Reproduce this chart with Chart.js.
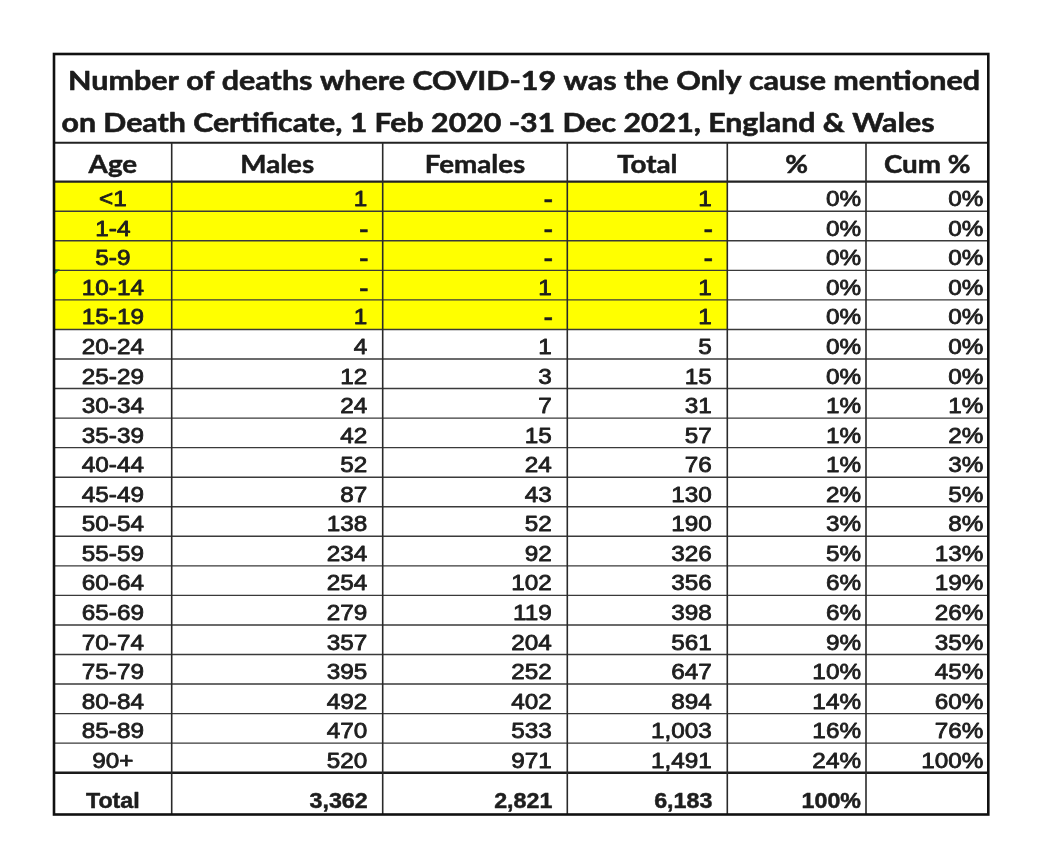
<!DOCTYPE html>
<html>
<head>
<meta charset="utf-8">
<script src="https://cdn.jsdelivr.net/npm/chart.js@4.4.1/dist/chart.umd.min.js"></script>
<style>
html,body{margin:0;padding:0;background:#ffffff;}
#wrap{width:1044px;height:868px;position:relative;}
</style>
</head>
<body>
<div id="wrap"><canvas id="c"></canvas></div>
<script>
// ---------------- DATA ----------------
const titleLine1 = 'Number of deaths where COVID-19 was the Only cause mentioned';
const titleLine2 = 'on Death Certificate, 1 Feb 2020 -31 Dec 2021, England & Wales';
const headers = ['Age', 'Males', 'Females', 'Total', '%', 'Cum %'];
const ageGroups = ['<1','1-4','5-9','10-14','15-19','20-24','25-29','30-34','35-39','40-44',
                   '45-49','50-54','55-59','60-64','65-69','70-74','75-79','80-84','85-89','90+'];
const males   = [1,0,0,0,1,4,12,24,42,52,87,138,234,254,279,357,395,492,470,520];
const females = [0,0,0,1,0,1,3,7,15,24,43,52,92,102,119,204,252,402,533,971];
const totals  = [1,0,0,1,1,5,15,31,57,76,130,190,326,356,398,561,647,894,1003,1491];
const pct     = [0,0,0,0,0,0,0,1,1,1,2,3,5,6,6,9,10,14,16,24];
const cumPct  = [0,0,0,0,0,0,0,1,2,3,5,8,13,19,26,35,45,60,76,100];
const totalRowLabel = 'Total';
const totalMales = 3362;
const totalFemales = 2821;
const grandTotal = 6183;
const totalPct = 100;
const highlightedAgeGroups = ['<1','1-4','5-9','10-14','15-19'];

// ---------------- LAYOUT ----------------
const colWidths = [117.7, 211, 184.6, 160, 138.7, 122.3];
const titleH = 88.7, headerH = 39, rowH = 29.55, totalH = 41.8;
const colEdges = [0];
colWidths.forEach(w => colEdges.push(colEdges[colEdges.length-1] + w));
const rowEdges = [0, titleH, titleH + headerH];
ageGroups.forEach(() => rowEdges.push(rowEdges[rowEdges.length-1] + rowH));
rowEdges.push(rowEdges[rowEdges.length-1] + totalH);
const W = colEdges[colEdges.length-1], H = rowEdges[rowEdges.length-1];

const fmtNum = n => n === 0 ? '-' : n.toLocaleString('en-US');
const fmtPct = n => n + '%';

function scaleToWidth(ctx, text, font, target) {
  ctx.font = font;
  return target / ctx.measureText(text).width;
}
function drawText(ctx, text, x, y, align, font, sx, color, emb) {
  ctx.save();
  ctx.font = font;
  ctx.translate(x, y);
  ctx.scale(sx, 1);
  ctx.textAlign = align;
  ctx.textBaseline = 'alphabetic';
  ctx.fillStyle = color;
  ctx.fillText(text, 0, 0);
  if (emb) { ctx.lineWidth = emb; ctx.strokeStyle = color; ctx.lineJoin = 'round'; ctx.strokeText(text, 0, 0); }
  ctx.restore();
}

const tablePlugin = {
  id: 'tableDraw',
  beforeDatasetsDraw(chart) {
    const ctx = chart.ctx, xs = chart.scales.x, ys = chart.scales.y;
    const X = v => xs.getPixelForValue(v), Y = v => ys.getPixelForValue(v);
    ctx.save();
    // yellow highlight
    ctx.fillStyle = '#FFFF00';
    ageGroups.forEach((a, i) => {
      if (!highlightedAgeGroups.includes(a)) return;
      const r = i + 2;
      ctx.fillRect(X(colEdges[0]), Y(rowEdges[r]), X(colEdges[4]) - X(colEdges[0]), Y(rowEdges[r+1]) - Y(rowEdges[r]));
    });
    // tiny spreadsheet marker
    const mr = ageGroups.indexOf('10-14') + 2;
    ctx.fillStyle = '#1a8a3a';
    ctx.beginPath();
    ctx.moveTo(X(0), Y(rowEdges[mr]) - 1);
    ctx.lineTo(X(0) + 6, Y(rowEdges[mr]) - 1);
    ctx.lineTo(X(0), Y(rowEdges[mr]) + 5);
    ctx.closePath(); ctx.fill();

    // horizontal lines
    const hline = (r, lw, col) => {
      ctx.strokeStyle = col; ctx.lineWidth = lw;
      ctx.beginPath(); ctx.moveTo(X(0), Y(rowEdges[r])); ctx.lineTo(X(W), Y(rowEdges[r])); ctx.stroke();
    };
    for (let r = 3; r < rowEdges.length - 2; r++) hline(r, 1.4, '#3a3a3a');
    hline(1, 2, '#222');
    hline(2, 2.2, '#222');
    hline(rowEdges.length - 2, 2.4, '#1a1a1a');
    // vertical lines
    ctx.strokeStyle = '#2a2a2a'; ctx.lineWidth = 1.6;
    for (let c = 1; c < colEdges.length - 1; c++) {
      ctx.beginPath(); ctx.moveTo(X(colEdges[c]), Y(rowEdges[1])); ctx.lineTo(X(colEdges[c]), Y(H)); ctx.stroke();
    }
    // outer border
    ctx.strokeStyle = '#111'; ctx.lineWidth = 2.6;
    ctx.strokeRect(X(0), Y(0), X(W) - X(0), Y(H) - Y(0));

    // titles
    const tf = 'Lato, "Open Sans", sans-serif';
    const titleColor = '#1b1b1b';
    const f1 = 'bold 26.5px ' + tf;
    drawText(ctx, titleLine1, X(0) + 14, Y(0) + 35.5, 'left', f1, scaleToWidth(ctx, titleLine1, f1, 912), titleColor, 0.6);
    drawText(ctx, titleLine2, X(0) + 7.5, Y(0) + 77.5, 'left', f1, scaleToWidth(ctx, titleLine2, f1, 873), titleColor, 0.6);

    // headers
    const fh = 'bold 24.5px ' + tf;
    const hsx = scaleToWidth(ctx, 'Females', fh, 100.5);
    headers.forEach((h, c) => {
      drawText(ctx, h, (X(colEdges[c]) + X(colEdges[c+1])) / 2, Y(rowEdges[2]) - 9, 'center', fh, hsx, titleColor, 0.5);
    });

    // data rows
    const df = '"Liberation Sans", Arial, sans-serif';
    const dcol = '#1e1e1e';
    const sx = 1.13;
    const fd = '21.5px ' + df, fb = 'bold 21.5px ' + df;
    const drawNum = (v, c, base, font) => {
      const right = X(colEdges[c+1]);
      if (v === 0) drawText(ctx, '-', right - 19, base, 'center', 'bold 21px ' + df, 1.3, dcol, 0.5);
      else drawText(ctx, fmtNum(v), right - 15.5, base, 'right', font, sx, dcol, 0.8);
    };
    const drawPct = (v, c, base, font) => {
      drawText(ctx, fmtPct(v), X(colEdges[c+1]) - 5, base, 'right', font, sx, dcol, 0.8);
    };
    ageGroups.forEach((a, i) => {
      const base = Y(rowEdges[i+3]) - 5;
      drawText(ctx, a, (X(colEdges[0]) + X(colEdges[1])) / 2, base, 'center', fd, sx, dcol, 0.8);
      drawNum(males[i], 1, base, fd);
      drawNum(females[i], 2, base, fd);
      drawNum(totals[i], 3, base, fd);
      drawPct(pct[i], 4, base, fd);
      drawPct(cumPct[i], 5, base, fd);
    });
    // total row
    const tb = Y(H) - 6.5;
    drawText(ctx, totalRowLabel, (X(colEdges[0]) + X(colEdges[1])) / 2, tb, 'center', fb, 1.08, dcol, 0.5);
    const drawBoldNum = (v, c) => drawText(ctx, fmtNum(v), X(colEdges[c+1]) - 15, tb, 'right', fb, 1.08, dcol, 0.5);
    drawBoldNum(totalMales, 1);
    drawBoldNum(totalFemales, 2);
    drawBoldNum(grandTotal, 3);
    drawText(ctx, fmtPct(totalPct), X(colEdges[5]) - 5, tb, 'right', fb, 1.08, dcol, 0.5);
    ctx.restore();
  }
};

new Chart(document.getElementById('c'), {
  type: 'scatter',
  data: { datasets: [{ data: [], pointRadius: 0 }] },
  options: {
    responsive: true,
    maintainAspectRatio: false,
    animation: false,
    events: [],
    layout: { padding: { left: 54, top: 54, right: 1044 - 54 - 934.3, bottom: 868 - 54 - 760.5 } },
    plugins: { legend: { display: false }, tooltip: { enabled: false } },
    scales: {
      x: { type: 'linear', min: 0, max: W, display: false },
      y: { type: 'linear', min: 0, max: H, reverse: true, display: false }
    }
  },
  plugins: [tablePlugin]
});
</script>
</body>
</html>
